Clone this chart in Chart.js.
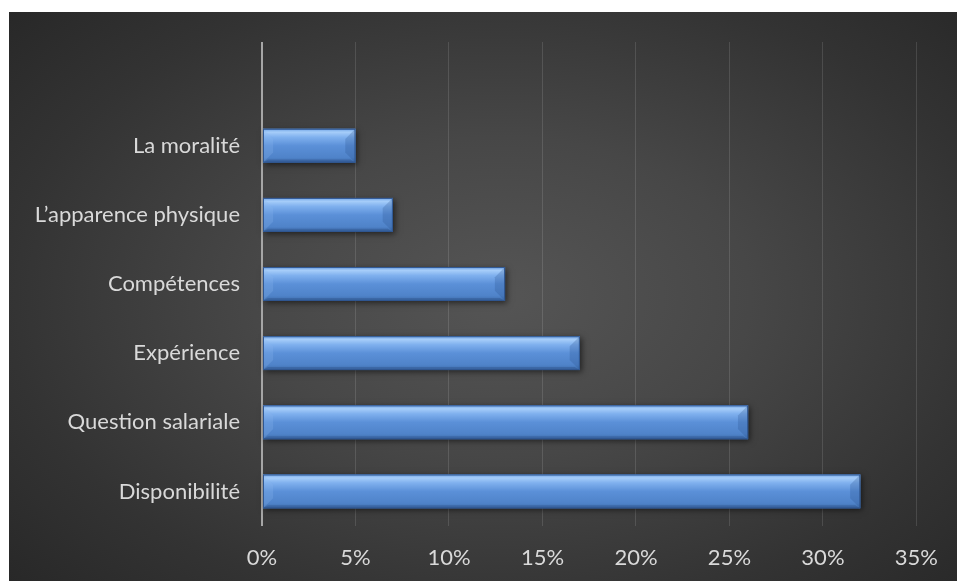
<!DOCTYPE html>
<html>
<head>
<meta charset="utf-8">
<script src="https://cdn.jsdelivr.net/npm/chart.js@4.4.0/dist/chart.umd.min.js"></script>
<style>
  html, body { margin: 0; padding: 0; background: #fff; }
  #box {
    position: absolute; left: 9px; top: 12px; width: 948px; height: 569px;
    background: radial-gradient(ellipse 75% 80% at 52% 50%, #555555 0%, #474747 35%, #333333 70%, #252525 100%);
  }
  #box canvas { display: block; }
</style>
</head>
<body>
<div id="box"><canvas id="myChart" width="948" height="569"></canvas></div>
<script>
// categories top -> bottom (first row is empty in the original)
var categories = ['', 'La moralité', 'L’apparence physique', 'Compétences', 'Expérience', 'Question salariale', 'Disponibilité'];
var valeurs = [null, 5, 7, 13, 17, 26, 32];
var xMax = 35;
var xStep = 5;

// glossy bevel drawn on top of each bar the library placed
var biseau = {
  id: 'biseau',
  afterDatasetsDraw: function(chart) {
    var c = chart.ctx;
    var meta = chart.getDatasetMeta(0);
    meta.data.forEach(function(el, i) {
      if (valeurs[i] == null) return;
      var p = el.getProps(['x', 'y', 'base', 'height'], true);
      var x0 = p.base, x1 = p.x, y0 = p.y - p.height / 2, y1 = p.y + p.height / 2;
      var h = y1 - y0, b = h * 0.3;
      c.save();
      c.shadowColor = 'rgba(0,0,0,0.55)';
      c.shadowBlur = 6;
      c.shadowOffsetX = 2;
      c.shadowOffsetY = 2;
      var g = c.createLinearGradient(0, y0, 0, y1);
      g.addColorStop(0, '#6fa3e6');
      g.addColorStop(0.1, '#a6cdf9');
      g.addColorStop(0.25, '#7fb0ee');
      g.addColorStop(0.5, '#5b90d8');
      g.addColorStop(0.85, '#4f83c9');
      g.addColorStop(1, '#3d6ba8');
      c.fillStyle = g;
      c.fillRect(x0, y0, x1 - x0, h);
      c.restore();
      c.save();
      // left face
      c.fillStyle = 'rgba(140,185,240,0.25)';
      c.beginPath();
      c.moveTo(x0, y0); c.lineTo(x0 + b, y0 + b); c.lineTo(x0 + b, y1 - b); c.lineTo(x0, y1);
      c.closePath(); c.fill();
      // right face
      c.fillStyle = 'rgba(40,80,140,0.25)';
      c.beginPath();
      c.moveTo(x1, y0); c.lineTo(x1 - b, y0 + b); c.lineTo(x1 - b, y1 - b); c.lineTo(x1, y1);
      c.closePath(); c.fill();
      // bottom face
      c.fillStyle = 'rgba(30,60,110,0.25)';
      c.beginPath();
      c.moveTo(x0, y1); c.lineTo(x0 + b * 0.5, y1 - b * 0.3); c.lineTo(x1 - b * 0.5, y1 - b * 0.3); c.lineTo(x1, y1);
      c.closePath(); c.fill();
      c.strokeStyle = '#2f5690';
      c.lineWidth = 1;
      c.strokeRect(x0 + 0.5, y0 + 0.5, x1 - x0 - 1, h - 1);
      c.restore();
    });
  }
};

var ctx = document.getElementById('myChart');
var myChart = new Chart(ctx, {
  type: 'bar',
  data: {
    labels: categories,
    datasets: [{
      data: valeurs,
      backgroundColor: '#5a8fd6',
      borderWidth: 0,
      categoryPercentage: 1,
      barPercentage: 0.49
    }]
  },
  options: {
    indexAxis: 'y',
    responsive: false,
    animation: false,
    events: [],
    layout: { padding: { left: 0, right: 37, top: 30, bottom: 0 } },
    plugins: {
      legend: { display: false },
      tooltip: { enabled: false }
    },
    scales: {
      x: {
        min: 0,
        max: xMax,
        ticks: {
          stepSize: xStep,
          color: '#d9d9d9',
          font: { family: 'Lato', size: 22 },
          padding: 19,
          callback: function(v) { return v + '%'; }
        },
        grid: {
          drawTicks: false,
          color: function(c) { return c.tick && c.tick.value === 0 ? '#a6a6a6' : 'rgba(255,255,255,0.12)'; },
          lineWidth: function(c) { return c.tick && c.tick.value === 0 ? 2 : 1; }
        },
        border: { display: false },
        afterFit: function(s) { s.height = 55; }
      },
      y: {
        ticks: {
          color: '#d9d9d9',
          font: { family: 'Lato', size: 22 },
          padding: 22
        },
        grid: { display: false, drawTicks: false },
        border: { display: false },
        afterFit: function(s) { s.width = 253; s.paddingTop = 0; s.paddingBottom = 0; }
      }
    }
  },
  plugins: [biseau]
});
</script>
</body>
</html>
